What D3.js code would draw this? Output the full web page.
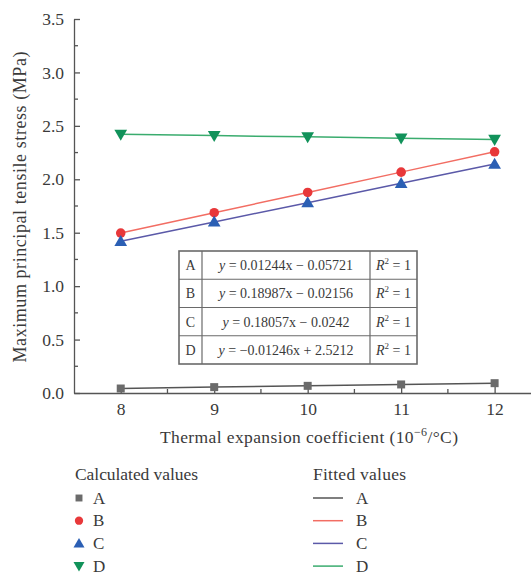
<!DOCTYPE html>
<html>
<head>
<meta charset="utf-8">
<script src="https://cdn.jsdelivr.net/npm/d3@7"></script>
<style>
  html, body { margin: 0; padding: 0; background: #fff; }
  svg { display: block; }
  text { font-family: "Liberation Serif", "DejaVu Serif", serif; fill: #3a3a3a; }
</style>
</head>
<body>
<svg id="chart" width="531" height="576"></svg>
<script>
// Thermal expansion coefficient (10^-6/°C)
const coefficients = [8, 9, 10, 11, 12];
// Maximum principal tensile stress (MPa) for each case
const valuesA = [0.042, 0.055, 0.067, 0.080, 0.092];
const valuesB = [1.497, 1.687, 1.877, 2.067, 2.257];
const valuesC = [1.420, 1.601, 1.781, 1.962, 2.143];
const valuesD = [2.421, 2.409, 2.397, 2.384, 2.372];
const seriesNames = ["A", "B", "C", "D"];
const fitEquations = [
  "y = 0.01244x \u2212 0.05721",
  "y = 0.18987x \u2212 0.02156",
  "y = 0.18057x \u2212 0.0242",
  "y = \u22120.01246x + 2.5212"
];
const xTicks = [8, 9, 10, 11, 12];
const yTicks = [0.0, 0.5, 1.0, 1.5, 2.0, 2.5, 3.0, 3.5];

const markerColors = ["#6b6b6b", "#e8383a", "#2b5fb4", "#11925a"];
const lineColors = ["#555555", "#f26d63", "#5b59a8", "#3aac6e"];
const markerTypes = [d3.symbolSquare, d3.symbolCircle, d3.symbolTriangle, d3.symbolTriangle];
const markerSizes = [64, 72, 70, 70];
const markerRotation = [0, 0, 0, 180];
const markerShift = [0, 0, 1, -1];

const svg = d3.select("#chart");
const axisColor = "#555";

const x = d3.scaleLinear().domain([7.5, 12.4]).range([74, 532]);
const y = d3.scaleLinear().domain([0, 3.5]).range([393, 19]);

// Axes with inward-pointing major and minor ticks
const gx = svg.append("g").attr("transform", `translate(0,${y(0)})`);
gx.call(d3.axisBottom(x).tickValues(xTicks).tickSizeInner(-6).tickSizeOuter(0).tickPadding(10).tickFormat(d3.format("d")));
gx.append("g").selectAll("line").data([8.5, 9.5, 10.5, 11.5]).join("line")
  .attr("x1", d => x(d)).attr("x2", d => x(d)).attr("y1", 0).attr("y2", -4);

const gy = svg.append("g").attr("transform", `translate(${x(7.5)},0)`);
gy.call(d3.axisLeft(y).tickValues(yTicks).tickSizeInner(-6).tickSizeOuter(0).tickPadding(10).tickFormat(d3.format(".1f")));
gy.append("g").selectAll("line").data([0.25, 0.75, 1.25, 1.75, 2.25, 2.75, 3.25]).join("line")
  .attr("y1", d => y(d)).attr("y2", d => y(d)).attr("x1", 0).attr("x2", 4);

[gx, gy].forEach(g => {
  g.selectAll("path, line").attr("stroke", axisColor).attr("stroke-width", 1.3);
  g.selectAll("text").style("font-family", "'Liberation Serif', serif").style("font-size", "17.5px").attr("fill", "#3a3a3a");
});

// Axis titles
svg.append("text")
  .attr("x", 309).attr("y", 443).attr("text-anchor", "middle")
  .style("font-size", "17.5px")
  .attr("textLength", 298).attr("lengthAdjust", "spacing")
  .html('Thermal expansion coefficient (10<tspan dy="-7" font-size="12">\u22126</tspan><tspan dy="7">/°C)</tspan>');
svg.append("text")
  .attr("transform", `translate(26,207) rotate(-90)`)
  .attr("text-anchor", "middle")
  .style("font-size", "18px")
  .attr("textLength", 311).attr("lengthAdjust", "spacing")
  .text("Maximum principal tensile stress (MPa)");

// Fit table
const table = { left: 179, right: 417, top: 251, rowH: 28.25, c1: 202, c2: 370 };
const tg = svg.append("g");
seriesNames.forEach((name, i) => {
  const ty = table.top + i * table.rowH;
  tg.append("text").attr("x", (table.left + table.c1) / 2).attr("y", ty + table.rowH / 2 + 5)
    .attr("text-anchor", "middle").style("font-size", "14px").text(name);
  const eq = fitEquations[i].replace(/^y/, "");
  const t = tg.append("text").attr("x", (table.c1 + table.c2) / 2).attr("y", ty + table.rowH / 2 + 5)
    .attr("text-anchor", "middle").style("font-size", "14px");
  t.append("tspan").attr("font-style", "italic").text("y");
  t.append("tspan").text(eq);
  const r = tg.append("text").attr("x", (table.c2 + table.right) / 2).attr("y", ty + table.rowH / 2 + 5)
    .attr("text-anchor", "middle").style("font-size", "14px");
  r.append("tspan").attr("font-style", "italic").text("R");
  r.append("tspan").attr("dy", -6).attr("font-size", "9px").text("2");
  r.append("tspan").attr("dy", 6).text(" = 1");
});
tg.append("rect").attr("x", table.left).attr("y", table.top)
  .attr("width", table.right - table.left).attr("height", table.rowH * 4)
  .attr("fill", "none").attr("stroke", "#6a6a6a").attr("stroke-width", 1.6);
[1, 2, 3].forEach(i => tg.append("line").attr("x1", table.left).attr("x2", table.right)
  .attr("y1", table.top + i * table.rowH).attr("y2", table.top + i * table.rowH)
  .attr("stroke", "#6a6a6a").attr("stroke-width", 1.2));
[table.c1, table.c2].forEach(cx => tg.append("line").attr("x1", cx).attr("x2", cx)
  .attr("y1", table.top).attr("y2", table.top + table.rowH * 4)
  .attr("stroke", "#6a6a6a").attr("stroke-width", 1.2));

// Series: fitted lines and calculated markers
const allValues = [valuesA, valuesB, valuesC, valuesD];
const line = d3.line().x(d => x(d[0])).y(d => y(d[1]));
allValues.forEach((vals, i) => {
  const pts = coefficients.map((c, k) => [c, vals[k]]);
  svg.append("path").datum(pts).attr("d", line)
    .attr("fill", "none").attr("stroke", lineColors[i]).attr("stroke-width", 1.5);
});
allValues.forEach((vals, i) => {
  const sym = d3.symbol().type(markerTypes[i]).size(markerSizes[i]);
  svg.append("g").selectAll("path").data(coefficients.map((c, k) => [c, vals[k]])).join("path")
    .attr("d", sym)
    .attr("transform", d => `translate(${x(d[0])},${y(d[1]) + markerShift[i]}) rotate(${markerRotation[i]})`)
    .attr("fill", markerColors[i]);
});

// Legends
const leg = svg.append("g");
leg.append("text").attr("x", 75).attr("y", 480).style("font-size", "17.5px")
  .attr("textLength", 123).attr("lengthAdjust", "spacing").text("Calculated values");
leg.append("text").attr("x", 313).attr("y", 480).style("font-size", "17.5px")
  .attr("textLength", 93).attr("lengthAdjust", "spacing").text("Fitted values");
seriesNames.forEach((name, i) => {
  const ly = 498 + i * 22.7;
  leg.append("path").attr("d", d3.symbol().type(markerTypes[i]).size(markerSizes[i] * 0.75))
    .attr("transform", `translate(79,${ly + markerShift[i]}) rotate(${markerRotation[i]})`)
    .attr("fill", markerColors[i]);
  leg.append("text").attr("x", 93).attr("y", ly + 5.5).style("font-size", "17px").text(name);
  leg.append("line").attr("x1", 313).attr("x2", 343).attr("y1", ly).attr("y2", ly)
    .attr("stroke", lineColors[i]).attr("stroke-width", 1.5);
  leg.append("text").attr("x", 356).attr("y", ly + 5.5).style("font-size", "17px").text(name);
});
</script>
</body>
</html>
